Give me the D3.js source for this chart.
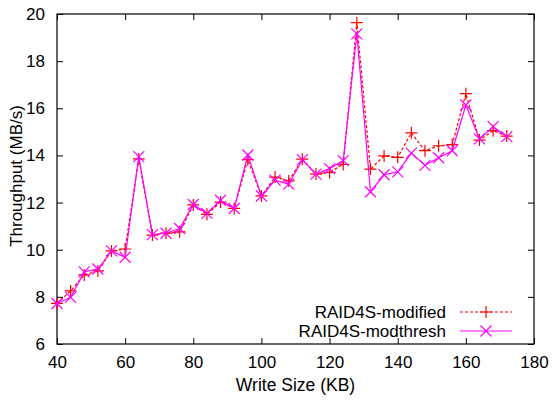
<!DOCTYPE html>
<html>
<head>
<meta charset="utf-8">
<script src="https://cdn.jsdelivr.net/npm/d3@7"></script>
<style>
  body { margin: 0; background: #fff; }
  text { font-family: "Liberation Sans", Arial, sans-serif; }
</style>
</head>
<body>
<svg id="chart"></svg>
<script>
const writeSizes = [40, 44, 48, 52, 56, 60, 64, 68, 72, 76, 80, 84, 88, 92, 96, 100, 104, 108,
  112, 116, 120, 124, 128, 132, 136, 140, 144, 148, 152, 156, 160, 164, 168, 172];
const modified = [7.72, 8.25, 8.93, 9.1, 9.95, 10.03, 13.85, 10.62, 10.7, 10.76, 11.9, 11.5, 12.02, 11.75,
  13.82, 12.28, 13.08, 12.92, 13.84, 13.21, 13.28, 13.62, 19.63, 13.42, 13.98, 13.92, 14.96, 14.2,
  14.41, 14.46, 16.62, 14.65, 15.05, 14.82];
const modthresh = [7.72, 7.98, 9.06, 9.18, 9.95, 9.68, 13.95, 10.64, 10.7, 10.9, 11.92, 11.54, 12.1, 11.75,
  14.02, 12.28, 12.95, 12.78, 13.82, 13.21, 13.44, 13.78, 19.16, 12.46, 13.18, 13.3, 14.1, 13.58,
  13.9, 14.2, 16.14, 14.7, 15.22, 14.8];
const xTicks = [40, 60, 80, 100, 120, 140, 160, 180];
const yTicks = [6, 8, 10, 12, 14, 16, 18, 20];

const W = 552, H = 401;
const margin = { top: 14, right: 18, bottom: 57, left: 57 },
      width = W - margin.left - margin.right,
      height = H - margin.top - margin.bottom;

const root = d3.select("#chart").attr("width", W).attr("height", H);
const svg = root.append("g").attr("transform", `translate(${margin.left},${margin.top})`);

const x = d3.scaleLinear().domain([40, 180]).range([0, width]);
const y = d3.scaleLinear().domain([6, 20]).range([height, 0]);

// axes with inward ticks, mirrored on top/right
const tickLen = 6;
svg.append("g").attr("transform", `translate(0,${height})`)
  .call(d3.axisBottom(x).tickValues(xTicks).tickSizeInner(-tickLen).tickSizeOuter(0).tickPadding(12))
  .call(g => g.select(".domain").remove());
svg.append("g")
  .call(d3.axisTop(x).tickValues(xTicks).tickSizeInner(-tickLen).tickSizeOuter(0).tickFormat(""))
  .call(g => g.select(".domain").remove());
svg.append("g")
  .call(d3.axisLeft(y).tickValues(yTicks).tickSizeInner(-tickLen).tickSizeOuter(0).tickPadding(12))
  .call(g => g.select(".domain").remove());
svg.append("g").attr("transform", `translate(${width},0)`)
  .call(d3.axisRight(y).tickValues(yTicks).tickSizeInner(-tickLen).tickSizeOuter(0).tickFormat(""))
  .call(g => g.select(".domain").remove());

svg.selectAll(".tick text").attr("font-size", 17).attr("fill", "#000")
  .attr("font-family", "'Liberation Sans', Arial, sans-serif");
svg.selectAll(".tick line").attr("stroke", "#000");

svg.append("rect").attr("width", width).attr("height", height)
  .attr("fill", "none").attr("stroke", "#000").attr("stroke-width", 1.2);

// axis titles
root.append("text")
  .attr("x", margin.left + width / 2).attr("y", 391)
  .attr("text-anchor", "middle").attr("font-size", 17.5)
  .text("Write Size (KB)");
root.append("text")
  .attr("transform", `translate(22,176) rotate(-90)`)
  .attr("text-anchor", "middle").attr("font-size", 17)
  .text("Throughput (MB/s)");

const series = [
  { name: "RAID4S-modified", values: modified, color: "#ff0000", dash: "3,2", marker: "plus" },
  { name: "RAID4S-modthresh", values: modthresh, color: "#ff00ff", dash: null, marker: "cross" }
];

const line = d3.line().x(d => x(d[0])).y(d => y(d[1]));

function drawMarker(g, type, cx, cy, color) {
  const s = type === "plus" ? 6 : 5.5;
  const p = type === "plus"
    ? `M${cx - s},${cy}L${cx + s},${cy}M${cx},${cy - s}L${cx},${cy + s}`
    : `M${cx - s},${cy - s}L${cx + s},${cy + s}M${cx - s},${cy + s}L${cx + s},${cy - s}`;
  g.append("path").attr("d", p).attr("stroke", color).attr("stroke-width", 1.2).attr("fill", "none");
}

series.forEach(s => {
  const pts = writeSizes.map((w, i) => [w, s.values[i]]);
  const g = svg.append("g");
  g.append("path").datum(pts)
    .attr("d", line)
    .attr("fill", "none")
    .attr("stroke", s.color)
    .attr("stroke-width", 1.2)
    .attr("stroke-dasharray", s.dash);
  pts.forEach(p => drawMarker(g, s.marker, x(p[0]), y(p[1]), s.color));
});

// legend
const legend = root.append("g");
series.forEach((s, i) => {
  const ly = 312 + i * 19;
  legend.append("text").attr("x", 446).attr("y", ly + 6)
    .attr("text-anchor", "end").attr("font-size", 17).text(s.name);
  legend.append("line").attr("x1", 460).attr("x2", 512).attr("y1", ly).attr("y2", ly)
    .attr("stroke", s.color).attr("stroke-width", 1.2).attr("stroke-dasharray", s.dash);
  drawMarker(legend, s.marker, 486, ly, s.color);
});
</script>
</body>
</html>
